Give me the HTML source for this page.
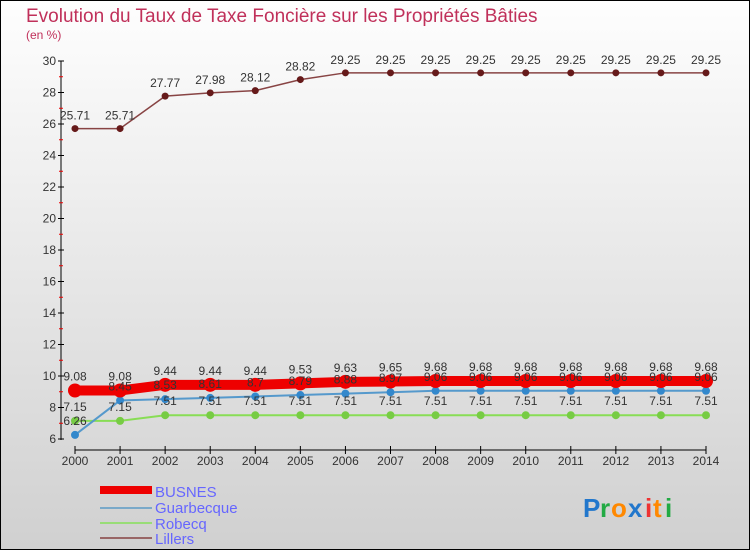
<!DOCTYPE html>
<html><head><meta charset="utf-8"><style>
body{margin:0;width:750px;height:550px;overflow:hidden}
svg{display:block;font-family:"Liberation Sans",sans-serif}
</style></head><body>
<svg width="750" height="550">
<defs><linearGradient id="bg" x1="0" y1="0" x2="0" y2="1"><stop offset="0" stop-color="#fefefe"/><stop offset="1" stop-color="#d0d0d0"/></linearGradient></defs>
<rect x="0.5" y="0.5" width="749" height="549" fill="url(#bg)" stroke="#000"/>
<text x="26" y="22" font-size="19" fill="#c0305a">Evolution du Taux de Taxe Foncière sur les Propriétés Bâties</text>
<text x="26" y="39" font-size="12" fill="#c0305a">(en %)</text>
<g id="axes"></g>
<g id="series"></g>
<g id="legend">
<rect x="100" y="486" width="52" height="8" fill="#ee0000"/>
<text x="155" y="497" font-size="15" fill="#6666ff">BUSNES</text>
<line x1="100" y1="508" x2="152" y2="508" stroke="#7aa9c9" stroke-width="2"/>
<text x="155" y="513" font-size="15" fill="#6666ff">Guarbecque</text>
<line x1="100" y1="523" x2="152" y2="523" stroke="#99dd77" stroke-width="2"/>
<text x="155" y="529" font-size="15" fill="#6666ff">Robecq</text>
<line x1="100" y1="538" x2="152" y2="538" stroke="#996666" stroke-width="2"/>
<text x="155" y="544" font-size="15" fill="#6666ff">Lillers</text>
</g>
<g font-size="26" font-weight="bold">
<text x="583" y="517" fill="#2277cc">P</text><text x="600" y="517" fill="#22aa44">r</text><text x="611" y="517" fill="#ff8800">o</text><text x="628" y="517" fill="#2277cc">x</text><text x="645" y="517" fill="#ee3333">i</text><text x="653" y="517" fill="#ff8800">t</text><text x="665" y="517" fill="#22aa44">i</text>
</g>
</svg>
<script>
const years=[2000,2001,2002,2003,2004,2005,2006,2007,2008,2009,2010,2011,2012,2013,2014];
const busnes=[9.08,9.08,9.44,9.44,9.44,9.53,9.63,9.65,9.68,9.68,9.68,9.68,9.68,9.68,9.68];
const guarbecque=[6.26,8.45,8.53,8.61,8.7,8.79,8.88,8.97,9.06,9.06,9.06,9.06,9.06,9.06,9.06];
const robecq=[7.15,7.15,7.51,7.51,7.51,7.51,7.51,7.51,7.51,7.51,7.51,7.51,7.51,7.51,7.51];
const lillers=[25.71,25.71,27.77,27.98,28.12,28.82,29.25,29.25,29.25,29.25,29.25,29.25,29.25,29.25,29.25];
const yTicks=[6,8,10,12,14,16,18,20,22,24,26,28,30];
const NS='http://www.w3.org/2000/svg';
const X=i=>75+i*(706-75)/(years.length-1);
const Y=v=>439-(v-6)*(439-61)/24;
function mk(tag,attrs,parent){const e=document.createElementNS(NS,tag);for(const k in attrs)e.setAttribute(k,attrs[k]);parent.appendChild(e);return e;}
const ax=document.getElementById('axes');
let l=mk('line',{x1:61,y1:61,x2:61,y2:440,stroke:'#000'},ax);


for(let v=7;v<30;v+=2){mk('line',{x1:59,y1:Y(v),x2:63,y2:Y(v),stroke:'#e00'},ax);}
yTicks.forEach(v=>{
mk('line',{x1:58,y1:Y(v),x2:64,y2:Y(v),stroke:'#000'},ax);
const t=mk('text',{x:56,y:Y(v)+4,'font-size':12,fill:'#333','text-anchor':'end'},ax);t.textContent=v;


});
l=mk('line',{x1:75,y1:450,x2:706,y2:450,stroke:'#000'},ax);


years.forEach((y,i)=>{
mk('line',{x1:X(i),y1:446,x2:X(i),y2:454,stroke:'#000'},ax);
const t=mk('text',{x:X(i),y:465,'font-size':12,fill:'#333','text-anchor':'middle'},ax);t.textContent=y;


});
const sg=document.getElementById('series');
function series(name,data,color,w,r,dot){
const g=mk('g',{},sg);


const p=mk('polyline',{points:data.map((v,i)=>X(i)+','+Y(v)).join(' '),fill:'none',stroke:color,'stroke-width':w},g);


data.forEach((v,i)=>{
const c=mk('circle',{cx:X(i),cy:Y(v),r:r,fill:dot},g);


});
return g;}
function labels(name,data,dy){
const g=mk('g',{},sg);


data.forEach((v,i)=>{const t=mk('text',{x:X(i),y:Y(v)+dy,'font-size':12,fill:'#333','text-anchor':'middle'},g);t.textContent=String(v);});}
series('robecq',robecq,'#88dd55',2,4,'#77cc44');
series('guarbecque',guarbecque,'#5599cc',2,4,'#3388cc');
series('busnes',busnes,'#ee0000',10,7,'#ee0000');
series('lillers',lillers,'#884444',1.5,3.5,'#661a1a');
labels('lillers',lillers,-9);
labels('busnes',busnes,-10);
labels('guarbecque',guarbecque,-10);
labels('robecq',robecq,-10);
</script>
</body></html>
